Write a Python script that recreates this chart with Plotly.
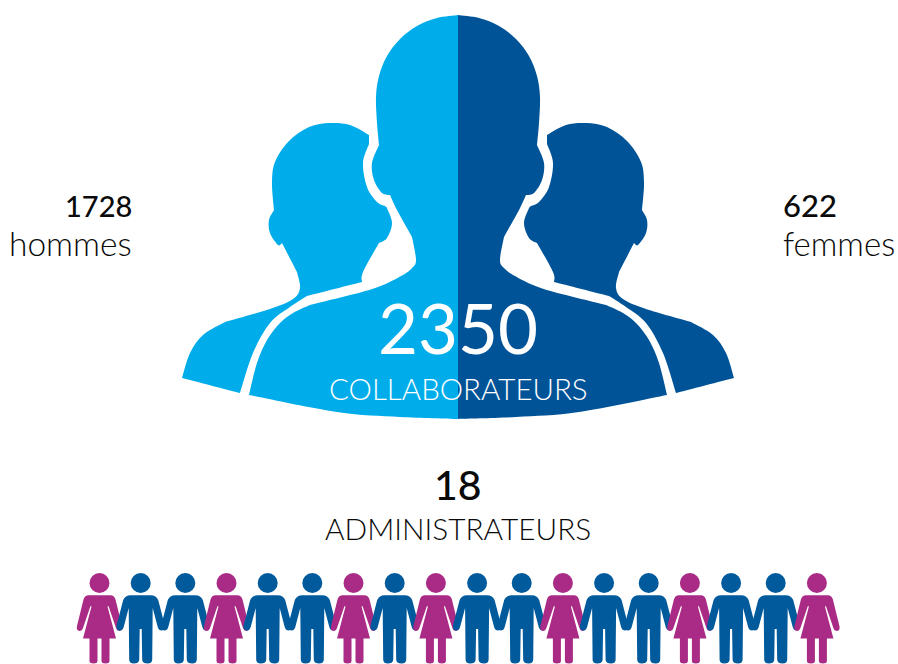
import plotly.graph_objects as go

# ---- chart values ----
total_staff = 2350
men = 1728
women = 622
admins = 18
staff_label = "COLLABORATEURS"
admin_label = "ADMINISTRATEURS"
men_label = "hommes"
women_label = "femmes"
admin_genders = list("FMMFMMFMFMMFMMFMMF")

LIGHT = "#00ADEA"
DARK = "#005397"
PINK = "#A92B86"
BLUE = "#005A9C"
INK = "#0A0A0A"
FONT = "Lato"
AXIS = 458


def smooth(run):
    """Catmull-Rom run to cubic bezier path segments."""
    out = []
    for i in range(len(run) - 1):
        p0 = run[i - 1] if i > 0 else run[i]
        p1, p2 = run[i], run[i + 1]
        p3 = run[i + 2] if i + 2 < len(run) else run[i + 1]
        c1 = (p1[0] + (p2[0] - p0[0]) / 6, p1[1] + (p2[1] - p0[1]) / 6)
        c2 = (p2[0] - (p3[0] - p1[0]) / 6, p2[1] - (p3[1] - p1[1]) / 6)
        out.append(f"C{c1[0]:.1f},{c1[1]:.1f} {c2[0]:.1f},{c2[1]:.1f} {p2[0]:.1f},{p2[1]:.1f}")
    return " ".join(out)


def outline(runs, mirror=False):
    if mirror:
        runs = [[(2 * AXIS - x, y) for x, y in r] for r in runs]
    s = f"M{runs[0][0][0]:.1f},{runs[0][0][1]:.1f} "
    s += " ".join(smooth(r) for r in runs)
    return s + " Z"


# silhouette outlines (left side; right side is the mirror image)
centre_runs = [
    [(458, 15), (437, 18), (417, 26), (400, 39), (387, 56), (379, 76), (376, 97), (377, 123), (379, 145)],
    [(379, 145), (372, 163), (374, 180), (382, 193), (390, 195)],
    [(390, 195), (397, 210), (412, 237)],
    [(412, 237), (416, 260), (412, 268), (403, 275), (383, 285), (362, 292), (310, 305)],
    [(310, 305), (293, 313), (280, 323), (267, 340), (257, 363), (249, 395)],
    [(249, 395), (337, 412), (400, 417), (458, 419)],
]
back_runs = [
    [(182, 378), (190, 353), (203, 335), (225, 322)],
    [(225, 322), (270, 309), (293, 299), (300, 288), (297, 272)],
    [(297, 272), (282, 243)],
    [(282, 243), (278, 245), (270, 233), (269, 220), (274, 210)],
    [(274, 210), (272, 183), (275, 162), (289, 141), (309, 127), (330, 123), (350, 125), (369, 135)],
    [(369, 135), (369, 144)],
    [(369, 144), (363, 163), (367, 187), (377, 202), (385, 206), (387, 208)],
    [(387, 208), (392, 223), (387, 238), (379, 243)],
    [(379, 243), (363, 272), (362, 282)],
    [(362, 282), (307, 296)],
    [(307, 296), (290, 307), (270, 323), (253, 353), (240, 393)],
    [(240, 393), (182, 378)],
]


def person_path(cx, top, woman):
    """Body path for one pictogram, centred on cx, with head centre at y = top."""
    if woman:
        half = [
            ("L", 11, 12.3), ("Q", 14.5, 12.3, 16, 16.5), ("L", 22.5, 43),
            ("Q", 23.5, 47.5, 20, 48), ("Q", 17.5, 48, 16.5, 45), ("L", 9, 23),
            ("L", 8, 23.5), ("L", 16.5, 55.5), ("L", 10, 55.5), ("L", 10, 78),
            ("Q", 10, 80.5, 6, 80.5), ("Q", 2, 80.5, 2, 78), ("L", 2, 55.5), ("L", 0, 55.5),
        ]
    else:
        half = [
            ("L", 10, 12.3), ("Q", 15.5, 12.3, 17.5, 17), ("L", 24, 42),
            ("Q", 25, 47, 21, 47.5), ("Q", 18, 47.5, 17, 44), ("L", 12, 25),
            ("L", 11.5, 77), ("Q", 11, 80.5, 7, 80.5), ("Q", 2, 80.5, 1.5, 77),
            ("L", 1, 46), ("L", 0, 46),
        ]
    s = f"M{cx:.1f},{top + 12.3:.1f} "
    for seg in half:
        if seg[0] == "L":
            s += f"L{cx + seg[1]:.1f},{top + seg[2]:.1f} "
        else:
            s += f"Q{cx + seg[1]:.1f},{top + seg[2]:.1f} {cx + seg[3]:.1f},{top + seg[4]:.1f} "
    # mirrored return path
    pts = [(0.0, 12.3)] + [(seg[-2], seg[-1]) for seg in half]
    for i in range(len(half) - 1, -1, -1):
        seg = half[i]
        px, py = pts[i]
        if seg[0] == "L":
            s += f"L{cx - px:.1f},{top + py:.1f} "
        else:
            s += f"Q{cx - seg[1]:.1f},{top + seg[2]:.1f} {cx - px:.1f},{top + py:.1f} "
    return s + "Z"


# positions of the row of people follow from its gender sequence
HEAD_Y = 583
xs = [99.5]
for a, b in zip(admin_genders, admin_genders[1:]):
    xs.append(xs[-1] + (44.6 if a == b == "M" else 41.2))

shapes = [
    dict(type="path", path=outline(back_runs), fillcolor=LIGHT, line_width=0, layer="below"),
    dict(type="path", path=outline(back_runs, True), fillcolor=DARK, line_width=0, layer="below"),
    dict(type="path", path=outline(centre_runs), fillcolor=LIGHT, line_width=0, layer="below"),
    dict(type="path", path=outline(centre_runs, True), fillcolor=DARK, line_width=0, layer="below"),
]
for x, g in zip(xs, admin_genders):
    shapes.append(dict(type="path", path=person_path(x, HEAD_Y, g == "F"),
                       fillcolor=PINK if g == "F" else BLUE, line_width=0, layer="below"))

fig = go.Figure()
for gender, colour in (("F", PINK), ("M", BLUE)):
    gx = [x for x, g in zip(xs, admin_genders) if g == gender]
    fig.add_trace(go.Scatter(x=gx, y=[HEAD_Y] * len(gx), mode="markers", hoverinfo="skip",
                             marker=dict(size=20, color=colour, line_width=0), showlegend=False))


def label(x, y, text, size, color=INK, anchor="center", weight=400):
    fig.add_annotation(x=x, y=y, text=text, showarrow=False, xanchor=anchor, yanchor="middle",
                       font=dict(family=FONT, size=size, color=color, weight=weight))


label(134, 205, str(men), 29, anchor="right", weight=500)
label(134, 243, men_label, 33.5, anchor="right", weight=300)
label(781, 205, str(women), 31, anchor="left", weight=500)
label(781, 243, women_label, 33, anchor="left", weight=300)
label(458, 327, str(total_staff), 69, color="white", weight=400)
label(458, 388, staff_label, 29.5, color="white", weight=300)
label(458, 484, str(admins), 41, weight=500)
label(458, 528, admin_label, 29.8, weight=300)

fig.update_layout(
    width=898, height=664, margin=dict(l=0, r=0, t=0, b=0),
    paper_bgcolor="white", plot_bgcolor="white", showlegend=False, shapes=shapes,
    xaxis=dict(range=[0, 898], visible=False, fixedrange=True),
    yaxis=dict(range=[664, 0], visible=False, fixedrange=True),
)
fig.write_html("out.html", config={"displayModeBar": False},
               post_script="document.body.style.margin='0';document.body.style.overflow='hidden';")
